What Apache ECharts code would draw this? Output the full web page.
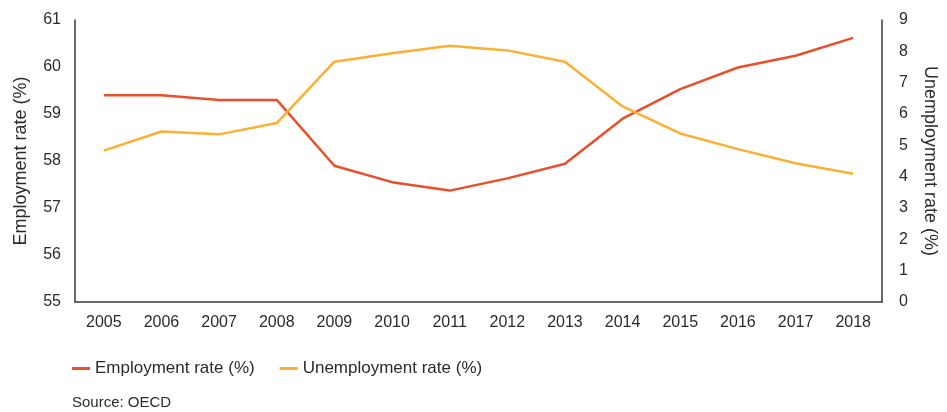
<!DOCTYPE html>
<html>
<head>
<meta charset="utf-8">
<script src="https://cdn.jsdelivr.net/npm/echarts@6/dist/echarts.min.js"></script>
<style>
  html, body { margin: 0; padding: 0; background: #fff; }
  #chart { width: 947px; height: 412px; }
</style>
</head>
<body>
<div id="chart"></div>
<script>
// Years on the category axis
const years = ['2005', '2006', '2007', '2008', '2009', '2010', '2011', '2012', '2013', '2014', '2015', '2016', '2017', '2018'];
// Employment rate (%), left axis
const employment = [59.4, 59.4, 59.3, 59.3, 57.9, 57.55, 57.37, 57.63, 57.94, 58.9, 59.53, 59.99, 60.24, 60.62];
// Unemployment rate (%), right axis
const unemployment = [4.83, 5.44, 5.35, 5.71, 7.67, 7.94, 8.18, 8.03, 7.67, 6.24, 5.38, 4.88, 4.43, 4.09];

const FONT = '"Liberation Sans", Arial, sans-serif';
const TEXT = '#2b2b2b';
const AXIS = '#3a3a3a';
const RED = '#e8502b';
const AMBER = '#fbb034';

const chart = echarts.init(document.getElementById('chart'), null, { renderer: 'canvas' });
chart.setOption({
  animation: false,
  textStyle: { fontFamily: FONT },
  grid: { left: 75, right: 65, top: 20, bottom: 110 },
  legend: {
    left: 67, top: 355,
    icon: 'rect', itemWidth: 18, itemHeight: 3, itemGap: 25,
    textStyle: { fontFamily: FONT, fontSize: 17, color: TEXT },
    data: ['Employment rate (%)', 'Unemployment rate (%)']
  },
  graphic: [{
    type: 'text', left: 72, top: 395,
    style: { text: 'Source: OECD', font: '15px ' + FONT, fill: TEXT }
  }],
  xAxis: {
    type: 'category', data: years, boundaryGap: true,
    axisLine: { lineStyle: { color: AXIS, width: 1.5 } },
    axisTick: { show: false },
    axisLabel: { fontFamily: FONT, fontSize: 16, color: TEXT, margin: 13 }
  },
  yAxis: [{
    type: 'value', min: 55, max: 61, interval: 1, position: 'left',
    name: 'Employment rate (%)', nameLocation: 'middle', nameRotate: 90, nameGap: 45,
    nameTextStyle: { fontFamily: FONT, fontSize: 18, color: TEXT },
    axisLine: { show: true, lineStyle: { color: AXIS, width: 1.5 } },
    axisTick: { show: false },
    splitLine: { show: false },
    axisLabel: { fontFamily: FONT, fontSize: 16, color: TEXT, margin: 14 }
  }, {
    type: 'value', min: 0, max: 9, interval: 1, position: 'right',
    name: 'Unemployment rate (%)', nameLocation: 'middle', nameRotate: -90, nameGap: 39,
    nameTextStyle: { fontFamily: FONT, fontSize: 18, color: TEXT },
    axisLine: { show: true, lineStyle: { color: AXIS, width: 1.5 } },
    axisTick: { show: false },
    splitLine: { show: false },
    axisLabel: { fontFamily: FONT, fontSize: 16, color: TEXT, margin: 17 }
  }],
  series: [{
    name: 'Employment rate (%)', type: 'line', yAxisIndex: 0,
    data: employment, showSymbol: false, symbol: 'none',
    lineStyle: { color: RED, width: 2.5 }, itemStyle: { color: RED }
  }, {
    name: 'Unemployment rate (%)', type: 'line', yAxisIndex: 1,
    data: unemployment, showSymbol: false, symbol: 'none',
    lineStyle: { color: AMBER, width: 2.5 }, itemStyle: { color: AMBER }
  }]
});
</script>
</body>
</html>
